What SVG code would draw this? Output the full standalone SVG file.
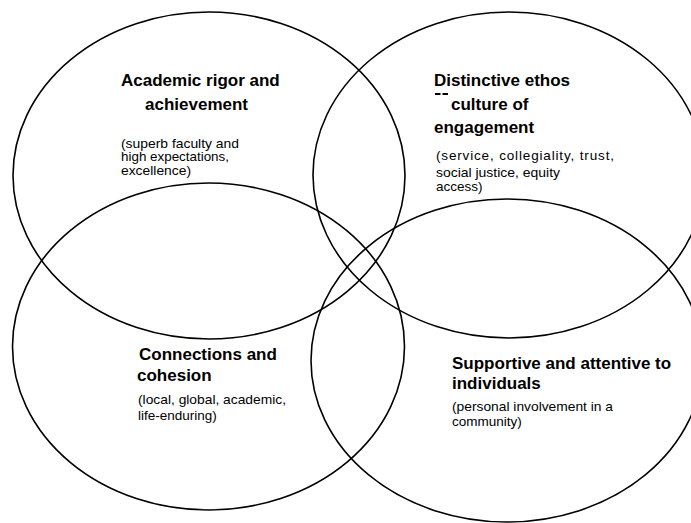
<svg xmlns="http://www.w3.org/2000/svg" width="691" height="523" viewBox="0 0 691 523">
  <style>
    .ring { fill: none; stroke: #000; stroke-width: 1.6; }
    .head { font-family: "Liberation Sans", Arial, sans-serif; font-size: 17px; font-weight: bold; fill: #000; }
    .note { font-family: "Liberation Sans", Arial, sans-serif; font-size: 13.5px; fill: #000; }
  </style>
  <rect width="691" height="523" fill="#fff"/>

  <!-- four overlapping circles of the school's character -->
  <g id="academic">
    <ellipse class="ring" cx="209" cy="175.5" rx="196" ry="163.5"/>
    <text class="head" x="121" y="86">Academic rigor and</text>
    <text class="head" x="145" y="110">achievement</text>
    <text class="note" x="121" y="147.5" textLength="118" lengthAdjust="spacingAndGlyphs">(superb faculty and</text>
    <text class="note" x="121" y="161" textLength="108" lengthAdjust="spacingAndGlyphs">high expectations,</text>
    <text class="note" x="121" y="174.5" textLength="70" lengthAdjust="spacingAndGlyphs">excellence)</text>
  </g>

  <g id="ethos">
    <ellipse class="ring" cx="509" cy="175" rx="196" ry="163"/>
    <text class="head" x="434" y="86">Distinctive ethos</text>
    <rect x="435" y="93" width="5.5" height="2" fill="#000"/>
    <rect x="442.5" y="93" width="5.5" height="2" fill="#000"/>
    <text class="head" x="451" y="110">culture of</text>
    <text class="head" x="434" y="133">engagement</text>
    <text class="note" x="436" y="160" textLength="178" lengthAdjust="spacing">(service, collegiality, trust,</text>
    <text class="note" x="436" y="177" textLength="124" lengthAdjust="spacingAndGlyphs">social justice, equity</text>
    <text class="note" x="436" y="191">access)</text>
  </g>

  <g id="connections">
    <ellipse class="ring" cx="208.5" cy="346.5" rx="196" ry="163.5"/>
    <text class="head" x="139" y="360">Connections and</text>
    <text class="head" x="137" y="381">cohesion</text>
    <text class="note" x="138" y="404" textLength="148" lengthAdjust="spacingAndGlyphs">(local, global, academic,</text>
    <text class="note" x="138" y="420">life-enduring)</text>
  </g>

  <g id="supportive">
    <ellipse class="ring" cx="507" cy="360.5" rx="196" ry="161.5"/>
    <text class="head" x="452" y="369">Supportive and attentive to</text>
    <text class="head" x="452" y="389">individuals</text>
    <text class="note" x="452" y="411" textLength="161" lengthAdjust="spacingAndGlyphs">(personal involvement in a</text>
    <text class="note" x="452" y="426">community)</text>
  </g>

  <g id="connectors"/>
</svg>
